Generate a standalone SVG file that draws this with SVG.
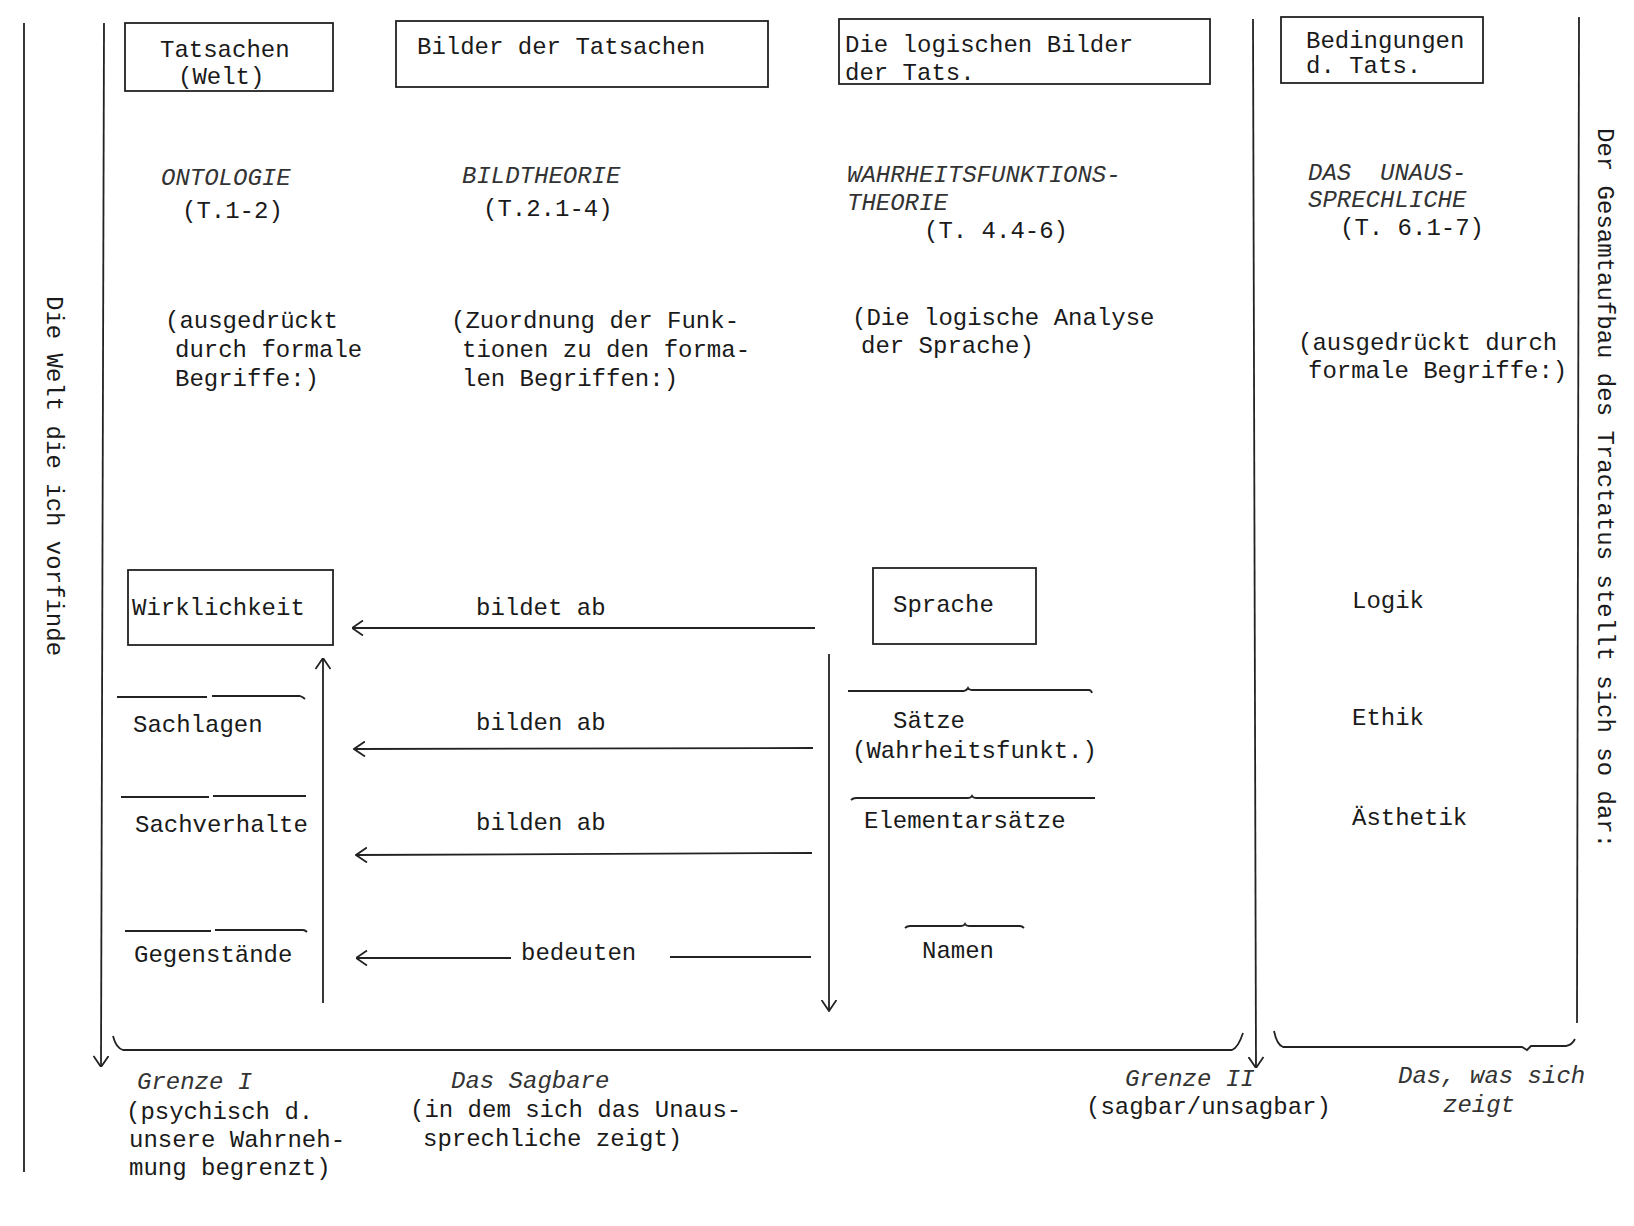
<svg xmlns="http://www.w3.org/2000/svg" width="1634" height="1226" viewBox="0 0 1634 1226">
<style>
.t{font-family:"Liberation Mono","DejaVu Sans Mono",monospace;font-size:24px;fill:#1a1a1a}
.i{font-style:italic;fill:#333}
.ln{stroke:#222;stroke-width:1.8;fill:none}
.bx{stroke:#222;stroke-width:1.8;fill:none}
.ar{marker-end:url(#ah)}
</style>
<defs>
<marker id="ah" viewBox="0 0 12 16" refX="11.5" refY="8" markerWidth="12" markerHeight="16" markerUnits="userSpaceOnUse" orient="auto">
<path d="M0.5,0.5 L11.5,8 L0.5,15.5" fill="none" stroke="#222" stroke-width="1.8"/>
</marker>
</defs>
<rect width="1634" height="1226" fill="#fff"/>

<g id="frame">
<line class="ln" x1="24" y1="23" x2="24" y2="1172"/>
<line class="ln ar" x1="104" y1="23" x2="101" y2="1067"/>
<line class="ln ar" x1="1253" y1="19" x2="1256" y2="1068"/>
<line class="ln" x1="1579" y1="17" x2="1577" y2="1023"/>
<path class="ln" d="M113,1036 Q116,1048 123,1050 H1232 Q1238,1048 1243,1033"/>
<path class="ln" d="M1274,1031 Q1277,1045 1283,1047 H1522 L1527,1050 L1531,1046 H1566 Q1572,1045 1575,1039"/>
<text class="t" transform="translate(47,296) rotate(90)">Die Welt die ich vorfinde</text>
<text class="t" transform="translate(1598,128) rotate(90)">Der Gesamtaufbau des Tractatus stellt sich so dar:</text>
</g>

<g id="col-tatsachen">
<rect class="bx" x="125" y="23" width="208" height="68"/>
<text class="t" x="160" y="57">Tatsachen</text>
<text class="t" x="178" y="84">(Welt)</text>
<text class="t i" x="161" y="185">ONTOLOGIE</text>
<text class="t" x="182" y="218">(T.1-2)</text>
<text class="t" x="165" y="328">(ausgedrückt</text>
<text class="t" x="175" y="357">durch formale</text>
<text class="t" x="175" y="386">Begriffe:)</text>
</g>

<g id="col-bilder">
<rect class="bx" x="396" y="21" width="372" height="66"/>
<text class="t" x="417" y="54">Bilder der Tatsachen</text>
<text class="t i" x="462" y="183">BILDTHEORIE</text>
<text class="t" x="483" y="216">(T.2.1-4)</text>
<text class="t" x="451" y="328">(Zuordnung der Funk-</text>
<text class="t" x="462" y="357">tionen zu den forma-</text>
<text class="t" x="462" y="386">len Begriffen:)</text>
</g>

<g id="col-logisch">
<rect class="bx" x="839" y="19" width="371" height="65"/>
<text class="t" x="845" y="52">Die logischen Bilder</text>
<text class="t" x="845" y="80">der Tats.</text>
<text class="t i" x="847" y="182">WAHRHEITSFUNKTIONS-</text>
<text class="t i" x="847" y="210">THEORIE</text>
<text class="t" x="924" y="238">(T. 4.4-6)</text>
<text class="t" x="852" y="325">(Die logische Analyse</text>
<text class="t" x="861" y="353">der Sprache)</text>
</g>

<g id="col-bedingungen">
<rect class="bx" x="1281" y="17" width="202" height="66"/>
<text class="t" x="1306" y="48">Bedingungen</text>
<text class="t" x="1306" y="73">d. Tats.</text>
<text class="t i" x="1308" y="180" style="white-space:pre" xml:space="preserve">DAS  UNAUS-</text>
<text class="t i" x="1308" y="207">SPRECHLICHE</text>
<text class="t" x="1340" y="235">(T. 6.1-7)</text>
<text class="t" x="1298" y="350">(ausgedrückt durch</text>
<text class="t" x="1308" y="378">formale Begriffe:)</text>
</g>

<g id="wirklichkeit">
<rect class="bx" x="128" y="570" width="205" height="75"/>
<text class="t" x="132" y="615">Wirklichkeit</text>
</g>
<g id="sachlagen">
<path class="ln" d="M117,697 H207 M212,696 H300 Q303,697 305,699"/>
<text class="t" x="133" y="732">Sachlagen</text>
</g>
<g id="sachverhalte">
<path class="ln" d="M121,797 H209 M213,796 H306"/>
<text class="t" x="135" y="832">Sachverhalte</text>
</g>
<g id="gegenstaende">
<path class="ln" d="M125,931 H211 M215,930 H303 Q305,930 307,932"/>
<text class="t" x="134" y="962">Gegenstände</text>
</g>

<g id="sprache">
<rect class="bx" x="873" y="568" width="163" height="76"/>
<text class="t" x="893" y="612">Sprache</text>
</g>
<g id="saetze">
<path class="ln" d="M848,691 H964 Q967,690 968,688 Q969,690 972,690 H1089 Q1091,690 1092,693"/>
<text class="t" x="893" y="728">Sätze</text>
<text class="t" x="852" y="758">(Wahrheitsfunkt.)</text>
</g>
<g id="elementarsaetze">
<path class="ln" d="M851,800 Q853,798 856,798 H968 Q971,798 972,796 Q973,798 976,798 H1095"/>
<text class="t" x="864" y="828">Elementarsätze</text>
</g>
<g id="namen">
<path class="ln" d="M905,928 Q907,926 910,926 H961 Q964,926 965,924 Q966,926 969,926 H1020 Q1022,926 1024,928"/>
<text class="t" x="922" y="958">Namen</text>
</g>

<g id="unsagbar">
<text class="t" x="1352" y="608">Logik</text>
<text class="t" x="1352" y="725">Ethik</text>
<text class="t" x="1352" y="825">Ästhetik</text>
</g>

<g id="connectors">
<line class="ln ar" x1="815" y1="628" x2="352" y2="628"/>
<line class="ln ar" x1="813" y1="748" x2="354" y2="749"/>
<line class="ln ar" x1="812" y1="853" x2="356" y2="855"/>
<line class="ln ar" x1="511" y1="958" x2="356" y2="958"/>
<line class="ln" x1="670" y1="957" x2="811" y2="957"/>
<line class="ln ar" x1="323" y1="1003" x2="323" y2="658"/>
<line class="ln ar" x1="829" y1="654" x2="829" y2="1011"/>
<text class="t" x="476" y="615">bildet ab</text>
<text class="t" x="476" y="730">bilden ab</text>
<text class="t" x="476" y="830">bilden ab</text>
<text class="t" x="521" y="960">bedeuten</text>
</g>

<g id="labels-bottom">
<text class="t i" x="137" y="1089">Grenze I</text>
<text class="t" x="126" y="1119">(psychisch d.</text>
<text class="t" x="129" y="1147">unsere Wahrneh-</text>
<text class="t" x="129" y="1175">mung begrenzt)</text>
<text class="t i" x="451" y="1088">Das Sagbare</text>
<text class="t" x="410" y="1117">(in dem sich das Unaus-</text>
<text class="t" x="423" y="1146">sprechliche zeigt)</text>
<text class="t i" x="1125" y="1086">Grenze II</text>
<text class="t" x="1086" y="1114">(sagbar/unsagbar)</text>
<text class="t i" x="1398" y="1083">Das, was sich</text>
<text class="t i" x="1443" y="1112">zeigt</text>
</g>
</svg>
